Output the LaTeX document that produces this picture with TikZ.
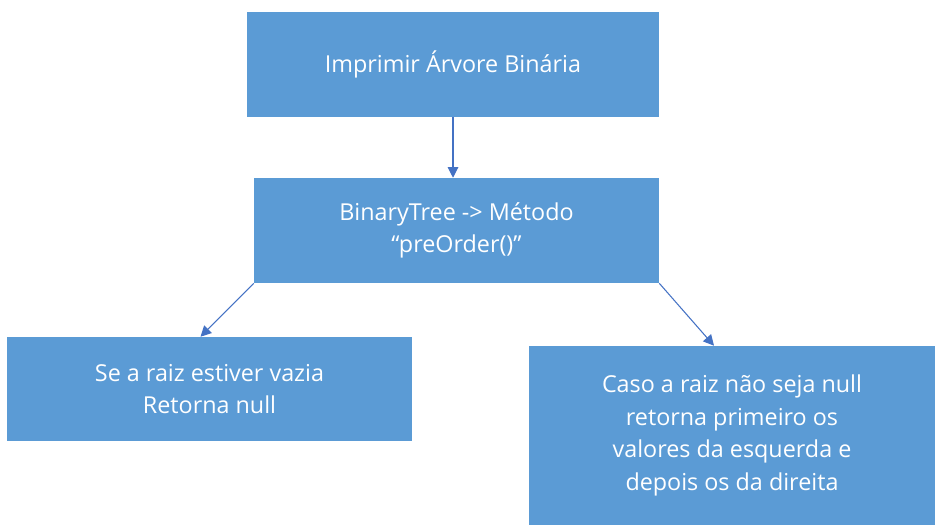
\documentclass[tikz,border=0pt]{standalone}
\usepackage{fontspec}
\setmainfont{Open Sans}
\usetikzlibrary{arrows.meta}
\definecolor{boxblue}{HTML}{5B9BD5}
\definecolor{arrowblue}{HTML}{4472C4}

\begin{document}
\begin{tikzpicture}[x=0.75pt, y=-0.75pt,
    box/.style={rectangle, fill=boxblue, text=white, align=center, inner sep=0pt,
        font=\fontsize{17.5}{24.5}\selectfont},
    link/.style={draw=arrowblue, line width=0.8pt, -{Triangle[length=8pt, width=8pt]}}]
    \useasboundingbox (0,0) rectangle (941,531);
    % Boxes
    \node[box, minimum width=412*0.75pt, minimum height=105*0.75pt] (print) at (453,64.5) {Imprimir Árvore Binária};
    \node[box, minimum width=405*0.75pt, minimum height=105*0.75pt] (preorder) at (456.5,230.5) {BinaryTree -> Método\\“preOrder()”};
    \node[box, minimum width=405*0.75pt, minimum height=104*0.75pt] (empty) at (209.5,389) {Se a raiz estiver vazia\\Retorna null};
    \node[box, minimum width=406*0.75pt, minimum height=179*0.75pt] (notempty) at (732,435.5) {Caso a raiz não seja null\\retorna primeiro os\\valores da esquerda e\\depois os da direita};

    % Arrow ends
    \coordinate (emptyin) at ([xshift=-9*0.75pt]empty.north);
    \coordinate (notemptyin) at ([xshift=-18*0.75pt]notempty.north);

    % Arrows
    \draw[link] (print.south) -- (print.south |- preorder.north);
    \draw[link] (preorder.south west) -- (emptyin);
    \draw[link] (preorder.south east) -- (notemptyin);
\end{tikzpicture}
\end{document}
